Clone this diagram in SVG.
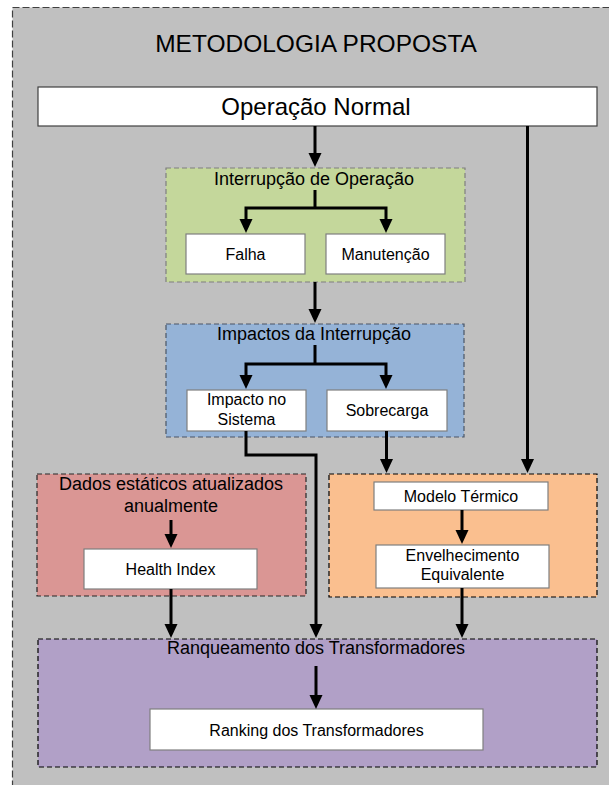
<svg xmlns="http://www.w3.org/2000/svg" xmlns:xlink="http://www.w3.org/1999/xlink" width="609" height="785" viewBox="0 0 609 785">
<style>
text{font-family:"Liberation Sans",Arial,sans-serif;fill:#000;text-anchor:middle}
.t18{font-size:18px}
.t16{font-size:16px}
.grp{stroke-width:1.2;stroke-dasharray:5,3}
.box{fill:#fff;stroke:#7f7f7f;stroke-width:1.2}
.ln{fill:none;stroke:#000;stroke-width:3}
</style>
<defs>
<path id="ah" d="M-6.5,-14 L6.5,-14 L0,0 Z" fill="#000"/>
</defs>
<rect x="0" y="0" width="609" height="785" fill="#fff"/>
<g id="frame">
<rect x="12.5" y="7.5" width="620" height="800" fill="#c0c0c0" stroke="#404040" stroke-width="1.2" stroke-dasharray="7,3"/>
<text x="316" y="52" style="font-size:24.5px">METODOLOGIA PROPOSTA</text>
</g>
<g id="operacao-normal">
<rect x="38" y="87" width="559" height="39" fill="#fff" stroke="#404040" stroke-width="1.2"/>
<text x="316" y="115" style="font-size:24px">Operação Normal</text>
</g>
<g id="interrupcao">
<rect class="grp" x="166" y="168" width="299" height="114" fill="#c4d79b" stroke="#7f7f7f"/>
<text class="t18" x="314" y="185">Interrupção de Operação</text>
</g>
<g id="falha">
<rect class="box" x="186" y="234" width="119" height="40"/>
<text class="t16" x="245.5" y="260">Falha</text>
</g>
<g id="manutencao">
<rect class="box" x="326" y="234" width="119" height="40"/>
<text class="t16" x="385.5" y="260">Manutenção</text>
</g>
<g id="impactos">
<rect class="grp" x="166" y="324" width="298" height="113" fill="#95b3d7" stroke="#4a5566"/>
<text class="t18" x="314" y="340">Impactos da Interrupção</text>
</g>
<g id="impacto-sistema">
<rect class="box" x="187" y="390" width="119" height="41"/>
<text class="t16" x="246.5" y="405">Impacto no</text>
<text class="t16" x="246.5" y="425">Sistema</text>
</g>
<g id="sobrecarga">
<rect class="box" x="327" y="390" width="120" height="41"/>
<text class="t16" x="387" y="416">Sobrecarga</text>
</g>
<g id="dados-estaticos">
<rect class="grp" x="37" y="474" width="269" height="122" fill="#da9694" stroke="#262626"/>
<text class="t18" x="171" y="490">Dados estáticos atualizados</text>
<text class="t18" x="171" y="512">anualmente</text>
</g>
<g id="health-index">
<rect class="box" x="84" y="549" width="173" height="40"/>
<text class="t16" x="170.5" y="575">Health Index</text>
</g>
<g id="termico">
<rect class="grp" x="329" y="474" width="268" height="123" fill="#fabf8f" stroke="#000"/>
</g>
<g id="modelo-termico">
<rect class="box" x="374" y="482" width="174" height="28"/>
<text class="t16" x="461" y="502">Modelo Térmico</text>
</g>
<g id="envelhecimento">
<rect class="box" x="376" y="545" width="173" height="43"/>
<text class="t16" x="462.5" y="561">Envelhecimento</text>
<text class="t16" x="462.5" y="580">Equivalente</text>
</g>
<g id="ranqueamento">
<rect class="grp" x="38" y="639" width="559" height="128" fill="#b1a0c7" stroke="#000"/>
<text class="t18" x="316" y="654">Ranqueamento dos Transformadores</text>
</g>
<g id="ranking">
<rect class="box" x="150" y="709" width="333" height="41"/>
<text class="t16" x="316.5" y="736">Ranking dos Transformadores</text>
</g>
<g id="connectors">
<path class="ln" d="M315,126 V157"/>
<use xlink:href="#ah" x="315" y="167"/>
<path class="ln" d="M315,190 V208 M246,208 H386 M246,206.5 V223 M386,206.5 V223"/>
<use xlink:href="#ah" x="246" y="233"/>
<use xlink:href="#ah" x="386" y="233"/>
<path class="ln" d="M315,282 V313"/>
<use xlink:href="#ah" x="315" y="323"/>
<path class="ln" d="M315,345 V364 M246,364 H386 M246,362.5 V379 M386,362.5 V379"/>
<use xlink:href="#ah" x="246" y="389"/>
<use xlink:href="#ah" x="386" y="389"/>
<path class="ln" d="M246,431 V455 H316 V628"/>
<use xlink:href="#ah" x="316" y="638"/>
<path class="ln" d="M386.5,431 V463"/>
<use xlink:href="#ah" x="386.5" y="473"/>
<path class="ln" d="M527.5,126 V463"/>
<use xlink:href="#ah" x="527.5" y="473"/>
<path class="ln" d="M171,520 V538"/>
<use xlink:href="#ah" x="171" y="548"/>
<path class="ln" d="M171,589 V628"/>
<use xlink:href="#ah" x="171" y="638"/>
<path class="ln" d="M462,510 V534"/>
<use xlink:href="#ah" x="462" y="544"/>
<path class="ln" d="M462,588 V628"/>
<use xlink:href="#ah" x="462" y="638"/>
<path class="ln" d="M316,666 V699"/>
<use xlink:href="#ah" x="316" y="709"/>
</g>
</svg>
